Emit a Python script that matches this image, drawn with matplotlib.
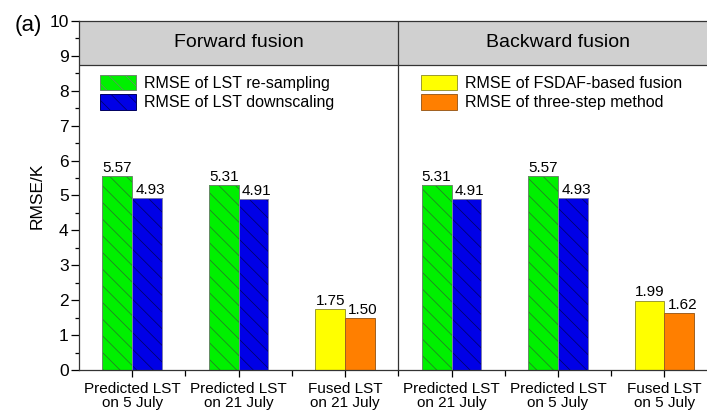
import matplotlib
matplotlib.use("Agg")
import matplotlib.pyplot as plt
from matplotlib.patches import Patch, Rectangle
import numpy as np

plt.rcParams['font.family'] = ['Liberation Sans', 'DejaVu Sans']
plt.rcParams['hatch.linewidth'] = 0.5

categories = ["Predicted LST\non 5 July", "Predicted LST\non 21 July", "Fused LST\non 21 July",
              "Predicted LST\non 21 July", "Predicted LST\non 5 July", "Fused LST\non 5 July"]
first_vals = [5.57, 5.31, 1.75, 5.31, 5.57, 1.99]
second_vals = [4.93, 4.91, 1.50, 4.91, 4.93, 1.62]
first_kind = ["resample", "resample", "fsdaf", "resample", "resample", "fsdaf"]
panel_titles = ["Forward fusion", "Backward fusion"]
legend_left = ["RMSE of LST re-sampling", "RMSE of LST downscaling"]
legend_right = ["RMSE of FSDAF-based fusion", "RMSE of three-step method"]

GREEN = "#00f000"
BLUE = "#0000e6"
YELLOW = "#ffff00"
ORANGE = "#ff7f00"
GREEN_H = "#2a702a"
BLUE_H = "#000060"

fig = plt.figure(figsize=(7.07, 4.12), dpi=100)
ax = fig.add_axes([0.1117, 0.102, 0.8883, 0.847])

x = np.arange(len(categories)) + 0.5
w = 0.28

def hatched_bar(xc, h, fc, hc, ec):
    ax.bar(xc, h, w, color=fc, edgecolor=hc, linewidth=0, hatch='\\\\', zorder=2)
    ax.bar(xc, h, w, fill=False, edgecolor=ec, linewidth=0.7, zorder=3)

for i in range(len(categories)):
    if first_kind[i] == "resample":
        hatched_bar(x[i] - w / 2, first_vals[i], GREEN, GREEN_H, "#6a8a6a")
        hatched_bar(x[i] + w / 2, second_vals[i], BLUE, BLUE_H, "#7a7aaa")
    else:
        ax.bar(x[i] - w / 2, first_vals[i], w, color=YELLOW, edgecolor="#9a9a30", linewidth=0.7, zorder=2)
        ax.bar(x[i] + w / 2, second_vals[i], w, color=ORANGE, edgecolor="#a06020", linewidth=0.7, zorder=2)
    ax.text(x[i] - w / 2, first_vals[i] + 0.03, f"{first_vals[i]:.2f}", ha='center', va='bottom', fontsize=11)
    ax.text(x[i] + w / 2 + 0.03, second_vals[i] + 0.03, f"{second_vals[i]:.2f}", ha='center', va='bottom', fontsize=11)

xmax = 5.9
ax.set_xlim(0, xmax)
ax.set_ylim(0, 10)

# header band
ax.add_patch(Rectangle((0, 8.75), xmax, 1.25, facecolor="#d0d0d0", edgecolor='none', zorder=1))
ax.axhline(8.75, color='#333333', lw=0.9, zorder=4)
ax.axvline(3, color='#333333', lw=0.9, zorder=4)
ax.text(1.5, 9.37, panel_titles[0], ha='center', va='center', fontsize=14)
ax.text(4.5, 9.37, panel_titles[1], ha='center', va='center', fontsize=14)

ax.spines['right'].set_visible(False)
for s in ['left', 'bottom', 'top']:
    ax.spines[s].set_linewidth(0.9)
    ax.spines[s].set_color('#333333')
    ax.spines[s].set_zorder(5)

ax.set_yticks(np.arange(0, 11, 1))
ax.set_yticks(np.arange(0, 10.5, 0.5), minor=True)
ax.set_xticks(x)
ax.set_xticklabels(categories, fontsize=11, linespacing=0.95)
ax.set_xticks([1, 2, 3, 4, 5], minor=True)
ax.tick_params(axis='y', which='major', labelsize=12.5, length=6, width=0.9, direction='out', pad=1.5)
ax.tick_params(axis='y', which='minor', length=3, width=0.9, direction='out')
ax.tick_params(axis='x', which='major', length=5, width=0.9, direction='out', pad=4)
ax.tick_params(axis='x', which='minor', length=4, width=0.9, direction='out')
ax.set_ylabel("RMSE/K", fontsize=12.5, labelpad=3)

fig.text(0.020, 0.937, "(a)", fontsize=16, va='center')

h_left = [Patch(facecolor=GREEN, edgecolor="#6a8a6a", hatch='\\\\', lw=0.7),
          Patch(facecolor=BLUE, edgecolor="#000060", hatch='\\\\', lw=0.7)]
h_right = [Patch(facecolor=YELLOW, edgecolor="#9a9a30", lw=0.7),
           Patch(facecolor=ORANGE, edgecolor="#a06020", lw=0.7)]
common = dict(frameon=False, fontsize=11.5, handlelength=2.25, handleheight=1.1,
              handletextpad=0.5, labelspacing=0.2, borderaxespad=0, borderpad=0)
leg1 = ax.legend(h_left, legend_left, loc='upper left', bbox_to_anchor=(0.033, 0.845), **common)
ax.add_artist(leg1)
ax.legend(h_right, legend_right, loc='upper left', bbox_to_anchor=(0.545, 0.845), **common)

fig.savefig("out.png", dpi=100)
